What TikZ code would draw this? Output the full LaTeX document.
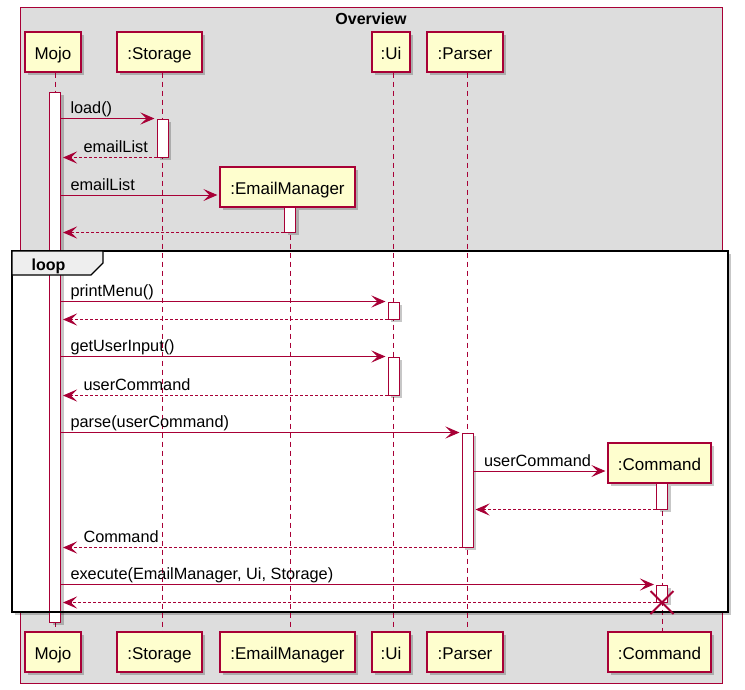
\documentclass[tikz,border=0pt]{standalone}
\usepackage{fontspec}
\setmainfont{Liberation Sans}
\usetikzlibrary{arrows.meta,shadows}
\definecolor{crim}{HTML}{A80036}
\definecolor{boxfill}{HTML}{FEFECE}
\definecolor{panel}{HTML}{DDDDDD}
\definecolor{tabfill}{HTML}{EEEEEE}

\begin{document}
\begin{tikzpicture}[x=1pt,y=-1pt,
  softshadow/.style={drop shadow={shadow xshift=3pt,shadow yshift=-3pt,fill=black,opacity=0.22}},
  part/.style={draw=crim,fill=boxfill,line width=1.2pt,minimum height=40pt,inner sep=0pt,
    text height=15pt,text depth=1pt,font=\fontsize{17}{20}\selectfont,softshadow},
  bar/.style={draw=crim,fill=white,line width=1pt,minimum width=11pt,inner sep=0pt,softshadow},
  life/.style={draw=crim,line width=1pt,dash pattern=on 5pt off 4pt},
  msg/.style={draw=crim,line width=1pt,-{Stealth[length=14pt,width=12pt,inset=6pt]},shorten >=2pt},
  ret/.style={msg,dash pattern=on 3pt off 2pt},
  lbl/.style={anchor=base west,inner sep=0pt,font=\fontsize{16.3}{19}\selectfont},
  fwd/.style={lbl,pos=0,xshift=9pt,yshift=5pt},
  back/.style={lbl,pos=1,xshift=22pt,yshift=5pt},
  xmark/.style={draw=crim,line width=1.8pt}]

% page and outer panel
\fill[white] (0,0) rectangle (745,689);
\useasboundingbox (0,0) rectangle (745,689);
\draw[draw=crim,fill=panel,line width=1pt] (20,7) rectangle (722,683);
\node[font=\bfseries\fontsize{16}{19}\selectfont,anchor=base] (title) at (371,24) {Overview};

% loop region background
\path[fill=white,softshadow] (12,251) rectangle (728,612);

% participants (top)
\node[part,minimum width=56pt]  (mojoT) at (53,52)    {Mojo};
\node[part,minimum width=85pt]  (stoT)  at (159.5,52) {:Storage};
\node[part,minimum width=38pt]  (uiT)   at (391,52)   {:Ui};
\node[part,minimum width=76pt]  (parT)  at (465,52)   {:Parser};
% participants (bottom)
\node[part,minimum width=56pt]  (mojoB) at (53,652)    {Mojo};
\node[part,minimum width=85pt]  (stoB)  at (159.5,652) {:Storage};
\node[part,minimum width=135pt] (emB)   at (287.5,652) {:EmailManager};
\node[part,minimum width=38pt]  (uiB)   at (391,652)   {:Ui};
\node[part,minimum width=76pt]  (parB)  at (465,652)   {:Parser};
\node[part,minimum width=103pt] (cmdB)  at (659.5,652) {:Command};

% created participants
\node[part,minimum width=135pt] (emT)  at (287.5,187) {:EmailManager};
\node[part,minimum width=103pt] (cmdT) at (659.5,463) {:Command};

% lifelines
\draw[life] ([xshift=2.5pt]mojoT.south) -- ([xshift=2.5pt]mojoB.north);
\draw[life] ([xshift=2.5pt]stoT.south)  -- ([xshift=2.5pt]stoB.north);
\draw[life] ([xshift=2.5pt]emT.south)   -- ([xshift=2.5pt]emB.north);
\draw[life] ([xshift=2.5pt]uiT.south)   -- ([xshift=2.5pt]uiB.north);
\draw[life] ([xshift=2.5pt]parT.south)  -- ([xshift=2.5pt]parB.north);
\draw[life] ([xshift=2.5pt]cmdT.south)  -- ([xshift=2.5pt]cmdB.north);

% activation bars
\node[bar,minimum height=530pt] (mojoBar) at (55,357)    {};
\node[bar,minimum height=38pt]  (stoBar)  at (162.5,138) {};
\node[bar,minimum height=25pt]  (emBar)   at (290,219.5) {};
\node[bar,minimum height=17pt]  (uiBar1)  at (393.5,310.5) {};
\node[bar,minimum height=38pt]  (uiBar2)  at (393.5,376) {};
\node[bar,minimum height=114pt] (parBar)  at (467.5,490) {};
\node[bar,minimum height=26pt]  (cmdBar1) at (662,496)   {};
\node[bar,minimum height=17pt]  (cmdBar2) at (662,593.5) {};

% loop frame and tab
\draw[black,line width=2.6pt] (12,251) rectangle (728,612);
\draw[black,fill=tabfill,line width=1.2pt] (12,251) -- (103,251) -- (103,263) -- (91,275) -- (12,275) -- cycle;
\node[font=\bfseries\fontsize{16}{19}\selectfont,anchor=base west,inner sep=0pt] (looplbl) at (31.5,270) {loop};

% message levels
\coordinate (lvEm)  at (0,195);
\coordinate (lvCmd) at (0,471);

% messages
\draw[msg] (mojoBar.east |- stoBar.north) -- (stoBar.north west) node[fwd] {load()};
\draw[ret] (stoBar.south west) -- (mojoBar.east |- stoBar.south) node[back] {emailList};
\draw[msg] (mojoBar.east |- lvEm) -- (emT.west |- lvEm) node[fwd] {emailList};
\draw[ret] (emBar.south west) -- (mojoBar.east |- emBar.south);

\draw[msg] (mojoBar.east |- uiBar1.north) -- (uiBar1.north west) node[fwd] {printMenu()};
\draw[ret] (uiBar1.south west) -- (mojoBar.east |- uiBar1.south);
\draw[msg] (mojoBar.east |- uiBar2.north) -- (uiBar2.north west) node[fwd] {getUserInput()};
\draw[ret] (uiBar2.south west) -- (mojoBar.east |- uiBar2.south) node[back] {userCommand};
\draw[msg] (mojoBar.east |- parBar.north) -- (parBar.north west) node[fwd] {parse(userCommand)};
\draw[msg] (parBar.east |- lvCmd) -- (cmdT.west |- lvCmd) node[lbl,pos=0,xshift=10pt,yshift=5pt] {userCommand};
\draw[ret] (cmdBar1.south west) -- (parBar.east |- cmdBar1.south);
\draw[ret] (parBar.south west) -- (mojoBar.east |- parBar.south) node[back] {Command};
\draw[msg] (mojoBar.east |- cmdBar2.north) -- (cmdBar2.north west) node[fwd] {execute(EmailManager, Ui, Storage)};
\draw[ret] (cmdBar2.south west) -- (mojoBar.east |- cmdBar2.south);

% destruction mark
\draw[xmark] ([shift={(-11.5pt,11.5pt)}]cmdBar2.south) -- ([shift={(11.5pt,-11.5pt)}]cmdBar2.south);
\draw[xmark] ([shift={(-11.5pt,-11.5pt)}]cmdBar2.south) -- ([shift={(11.5pt,11.5pt)}]cmdBar2.south);
\end{tikzpicture}
\end{document}
